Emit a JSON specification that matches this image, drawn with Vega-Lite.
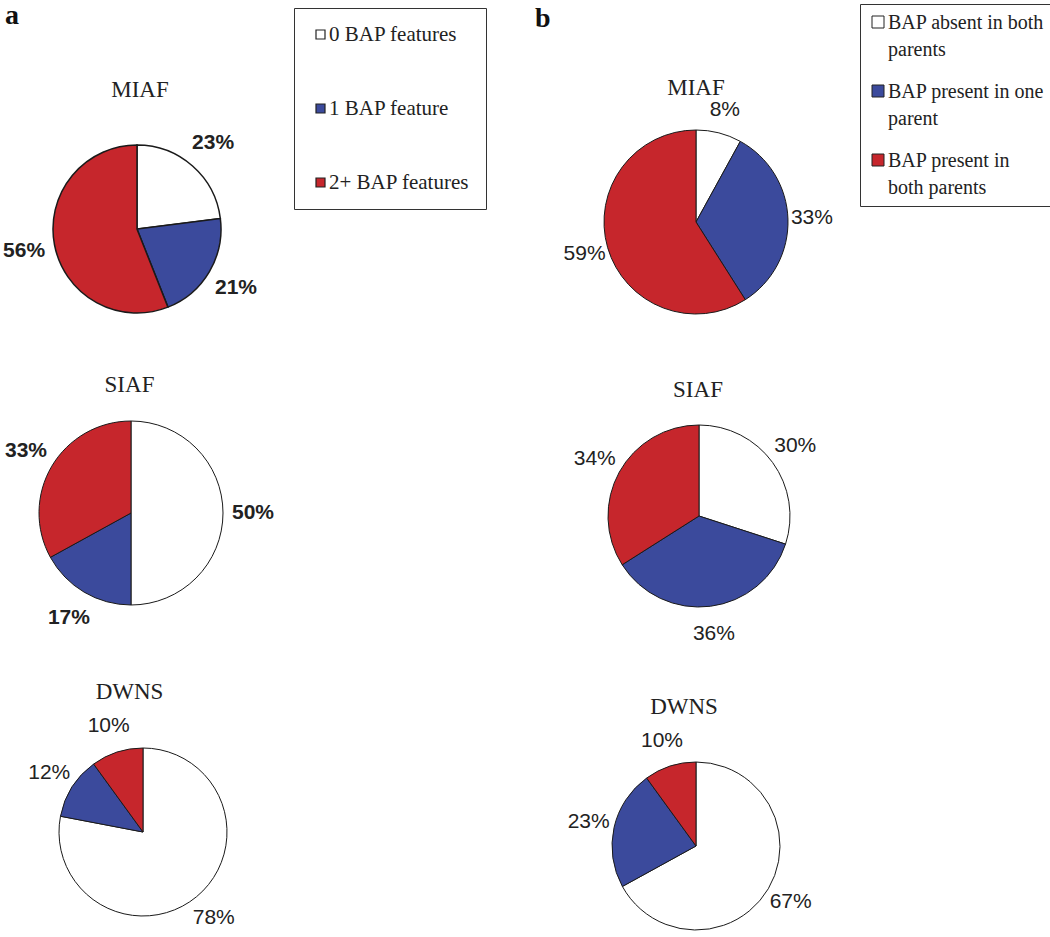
{
  "$schema": "https://vega.github.io/schema/vega-lite/v6.json",
  "autosize": {"type": "pad"},
  "padding": {"left": 3, "top": 1, "right": 0, "bottom": 0},
  "background": "white",
  "config": {
    "view": {"stroke": null},
    "title": {"font": "Liberation Serif", "fontSize": 23, "fontWeight": "normal", "color": "#222222", "anchor": "middle", "frame": "group"}
  },
  "data": {"values": [
    {"col": "a", "disease": "MIAF", "cat": "0 BAP features", "i": 0, "v": 0.23},
    {"col": "a", "disease": "MIAF", "cat": "1 BAP feature", "i": 1, "v": 0.21},
    {"col": "a", "disease": "MIAF", "cat": "2+ BAP features", "i": 2, "v": 0.56},
    {"col": "a", "disease": "SIAF", "cat": "0 BAP features", "i": 0, "v": 0.50},
    {"col": "a", "disease": "SIAF", "cat": "1 BAP feature", "i": 1, "v": 0.17},
    {"col": "a", "disease": "SIAF", "cat": "2+ BAP features", "i": 2, "v": 0.33},
    {"col": "a", "disease": "DWNS", "cat": "0 BAP features", "i": 0, "v": 0.78},
    {"col": "a", "disease": "DWNS", "cat": "1 BAP feature", "i": 1, "v": 0.12},
    {"col": "a", "disease": "DWNS", "cat": "2+ BAP features", "i": 2, "v": 0.10},
    {"col": "b", "disease": "MIAF", "cat": "BAP absent in both parents", "i": 0, "v": 0.08},
    {"col": "b", "disease": "MIAF", "cat": "BAP present in one parent", "i": 1, "v": 0.33},
    {"col": "b", "disease": "MIAF", "cat": "BAP present in both parents", "i": 2, "v": 0.59},
    {"col": "b", "disease": "SIAF", "cat": "BAP absent in both parents", "i": 0, "v": 0.30},
    {"col": "b", "disease": "SIAF", "cat": "BAP present in one parent", "i": 1, "v": 0.36},
    {"col": "b", "disease": "SIAF", "cat": "BAP present in both parents", "i": 2, "v": 0.34},
    {"col": "b", "disease": "DWNS", "cat": "BAP absent in both parents", "i": 0, "v": 0.67},
    {"col": "b", "disease": "DWNS", "cat": "BAP present in one parent", "i": 1, "v": 0.23},
    {"col": "b", "disease": "DWNS", "cat": "BAP present in both parents", "i": 2, "v": 0.10}
  ]},
  "spacing": 530,
  "bounds": "flush",
  "resolve": {"scale": {"color": "independent", "theta": "independent"}},
  "hconcat": [
    {
      "title": {"text": "a", "anchor": "start", "font": "Liberation Serif", "fontSize": 28, "fontWeight": "bold", "color": "#111111", "offset": -22},
      "spacing": 75,
      "bounds": "flush",
      "resolve": {"scale": {"color": "independent", "theta": "independent"}},
      "vconcat": [
        {
          "width": 264, "height": 190,
          "title": {"text": "MIAF", "dx": 3, "offset": -94},
          "transform": [{"filter": "datum.col == 'a' && datum.disease == 'MIAF'"}],
          "encoding": {"theta": {"field": "v", "type": "quantitative", "stack": true}, "order": {"field": "i", "type": "quantitative"}},
          "layer": [
            {"mark": {"type": "arc", "outerRadius": 84, "stroke": "#1a1a1a", "strokeWidth": 1.5},
             "encoding": {"color": {"field": "cat", "type": "nominal",
               "scale": {"domain": ["0 BAP features", "1 BAP feature", "2+ BAP features"], "range": ["#ffffff", "#3b4a9c", "#c6262c"]},
               "legend": {"title": null, "orient": "none", "legendX": 289, "legendY": -126, "direction": "vertical",
                 "symbolType": "square", "symbolSize": 81, "symbolStrokeColor": "#222222", "symbolStrokeWidth": 1.2,
                 "labelFont": "Liberation Serif", "labelFontSize": 21, "labelColor": "#222222", "labelOffset": -2, "labelLimit": 300,
                 "strokeColor": "#333333", "padding": 16, "rowPadding": 52}}}},
            {"mark": {"type": "text", "radius": 115, "font": "Liberation Sans", "fontSize": 21, "fontWeight": "bold", "fill": "#222222"},
             "encoding": {"text": {"field": "v", "type": "quantitative", "format": ".0%"}}}
          ]
        },
        {
          "width": 252, "height": 228,
          "title": {"text": "SIAF", "dx": -1.5, "offset": 2},
          "transform": [{"filter": "datum.col == 'a' && datum.disease == 'SIAF'"}],
          "encoding": {"theta": {"field": "v", "type": "quantitative", "stack": true}, "order": {"field": "i", "type": "quantitative"}},
          "layer": [
            {"mark": {"type": "arc", "outerRadius": 92, "stroke": "#1a1a1a", "strokeWidth": 1},
             "encoding": {"color": {"field": "cat", "type": "nominal",
               "scale": {"domain": ["0 BAP features", "1 BAP feature", "2+ BAP features"], "range": ["#ffffff", "#3b4a9c", "#c6262c"]},
               "legend": null}}},
            {"mark": {"type": "text", "radius": 122, "font": "Liberation Sans", "fontSize": 21, "fontWeight": "bold", "fill": "#222222"},
             "encoding": {"text": {"field": "v", "type": "quantitative", "format": ".0%"}}}
          ]
        },
        {
          "width": 276, "height": 260,
          "title": {"text": "DWNS", "dx": -13.5, "offset": -2},
          "transform": [{"filter": "datum.col == 'a' && datum.disease == 'DWNS'"}],
          "encoding": {"theta": {"field": "v", "type": "quantitative", "stack": true}, "order": {"field": "i", "type": "quantitative"}},
          "layer": [
            {"mark": {"type": "arc", "outerRadius": 84, "stroke": "#1a1a1a", "strokeWidth": 1},
             "encoding": {"color": {"field": "cat", "type": "nominal",
               "scale": {"domain": ["0 BAP features", "1 BAP feature", "2+ BAP features"], "range": ["#ffffff", "#3b4a9c", "#c6262c"]},
               "legend": null}}},
            {"mark": {"type": "text", "radius": 111, "font": "Liberation Sans", "fontSize": 21, "fontWeight": "normal", "fill": "#222222"},
             "encoding": {"text": {"field": "v", "type": "quantitative", "format": ".0%"}}}
          ]
        }
      ]
    },
    {
      "title": {"text": "b", "anchor": "start", "font": "Liberation Serif", "fontSize": 28, "fontWeight": "bold", "color": "#111111", "offset": -29},
      "spacing": 87,
      "bounds": "flush",
      "resolve": {"scale": {"color": "independent", "theta": "independent"}},
      "vconcat": [
        {
          "width": 322, "height": 176,
          "title": {"text": "MIAF", "dx": 0, "offset": -96},
          "transform": [{"filter": "datum.col == 'b' && datum.disease == 'MIAF'"}],
          "encoding": {"theta": {"field": "v", "type": "quantitative", "stack": true}, "order": {"field": "i", "type": "quantitative"}},
          "layer": [
            {"mark": {"type": "arc", "outerRadius": 92, "stroke": "#1a1a1a", "strokeWidth": 1},
             "encoding": {"color": {"field": "cat", "type": "nominal",
               "scale": {"domain": ["BAP absent in both parents", "BAP present in one parent", "BAP present in both parents"], "range": ["#ffffff", "#3b4a9c", "#c6262c"]},
               "legend": {"title": null, "orient": "none", "legendX": 325, "legendY": -130, "direction": "vertical",
                 "symbolType": "square", "symbolSize": 144, "symbolStrokeColor": "#222222", "symbolStrokeWidth": 1,
                 "labelFont": "Liberation Serif", "labelFontSize": 20, "labelColor": "#222222", "labelOffset": 0, "labelLimit": 300,
                 "labelExpr": "datum.label == 'BAP absent in both parents' ? ['BAP absent in both', 'parents'] : datum.label == 'BAP present in one parent' ? ['BAP present in one', 'parent'] : ['BAP present in', 'both parents']",
                 "strokeColor": "#333333", "padding": 8, "rowPadding": 21,
                 "labelBaseline": "top",
                 "encode": {"labels": {"update": {"lineHeight": {"value": 27}, "dy": {"value": -9}}}}}}}},
            {"mark": {"type": "text", "radius": 116, "font": "Liberation Sans", "fontSize": 21, "fill": "#222222"},
             "encoding": {"text": {"field": "v", "type": "quantitative", "format": ".0%"},
               "fontWeight": {"condition": {"test": "datum.v < 0.5", "value": "bold"}, "value": "normal"}}}
          ]
        },
        {
          "width": 328, "height": 238,
          "title": {"text": "SIAF", "dx": -1, "offset": -5},
          "transform": [{"filter": "datum.col == 'b' && datum.disease == 'SIAF'"}],
          "encoding": {"theta": {"field": "v", "type": "quantitative", "stack": true}, "order": {"field": "i", "type": "quantitative"}},
          "layer": [
            {"mark": {"type": "arc", "outerRadius": 91, "stroke": "#1a1a1a", "strokeWidth": 1},
             "encoding": {"color": {"field": "cat", "type": "nominal",
               "scale": {"domain": ["BAP absent in both parents", "BAP present in one parent", "BAP present in both parents"], "range": ["#ffffff", "#3b4a9c", "#c6262c"]},
               "legend": null}}},
            {"mark": {"type": "text", "radius": 119, "font": "Liberation Sans", "fontSize": 21, "fontWeight": "normal", "fill": "#222222"},
             "encoding": {"text": {"field": "v", "type": "quantitative", "format": ".0%"}}}
          ]
        },
        {
          "width": 322, "height": 248,
          "title": {"text": "DWNS", "dx": -12, "offset": 3},
          "transform": [{"filter": "datum.col == 'b' && datum.disease == 'DWNS'"}],
          "encoding": {"theta": {"field": "v", "type": "quantitative", "stack": true}, "order": {"field": "i", "type": "quantitative"}},
          "layer": [
            {"mark": {"type": "arc", "outerRadius": 84, "stroke": "#1a1a1a", "strokeWidth": 1},
             "encoding": {"color": {"field": "cat", "type": "nominal",
               "scale": {"domain": ["BAP absent in both parents", "BAP present in one parent", "BAP present in both parents"], "range": ["#ffffff", "#3b4a9c", "#c6262c"]},
               "legend": null}}},
            {"mark": {"type": "text", "radius": 110, "font": "Liberation Sans", "fontSize": 21, "fontWeight": "normal", "fill": "#222222"},
             "encoding": {"text": {"field": "v", "type": "quantitative", "format": ".0%"}}}
          ]
        }
      ]
    }
  ]
}
